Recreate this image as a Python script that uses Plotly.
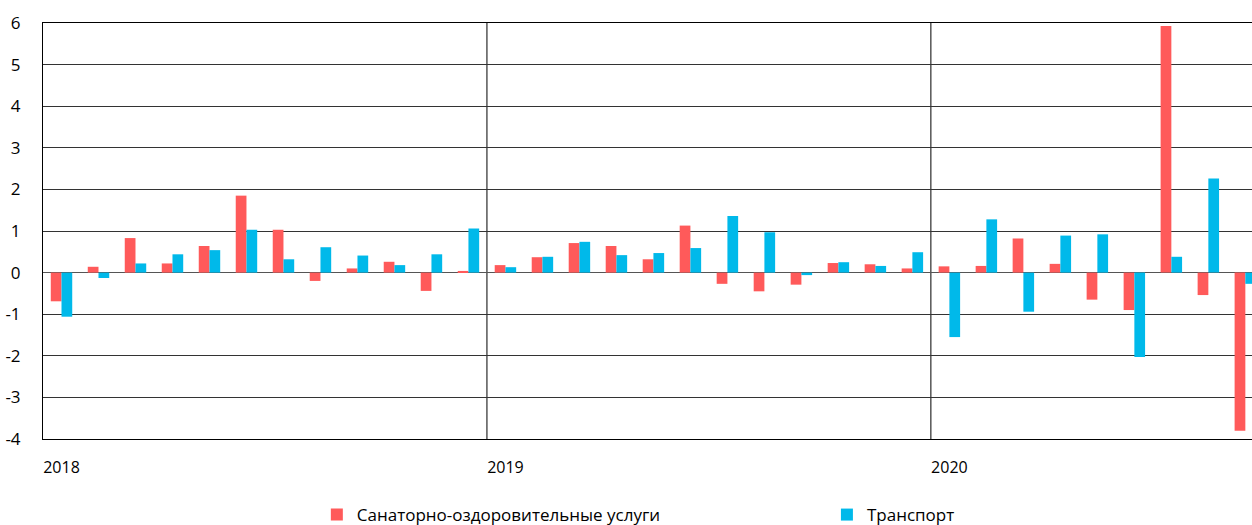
import plotly.graph_objects as go

months = list(range(33))  # Jan 2018 .. Sep 2020
year_ticks = [0, 12, 24]
year_labels = ["2018", "2019", "2020"]
year_bounds = [11.5, 23.5]
y_ticks = [-4, -3, -2, -1, 0, 1, 2, 3, 4, 5, 6]
y_labels = ["-4", "-3", "-2", "-1", "0", "1", "2", "3", "4", "5", "6"]

sanatorium = [-0.69, 0.14, 0.83, 0.22, 0.64, 1.85, 1.03, -0.20, 0.10, 0.26, -0.44, 0.04,
              0.18, 0.37, 0.71, 0.64, 0.32, 1.13, -0.27, -0.45, -0.29, 0.23, 0.20, 0.10,
              0.15, 0.16, 0.82, 0.21, -0.65, -0.90, 5.93, -0.54, -3.80]
transport = [-1.06, -0.13, 0.22, 0.44, 0.54, 1.03, 0.32, 0.61, 0.41, 0.18, 0.44, 1.06,
             0.13, 0.38, 0.74, 0.42, 0.47, 0.59, 1.36, 0.97, -0.06, 0.25, 0.16, 0.49,
             -1.55, 1.28, -0.94, 0.89, 0.92, -2.03, 0.38, 2.26, -0.27]

names = ["Санаторно-оздоровительные услуги", "Транспорт"]
colors = ["#FF5A5A", "#00B9EA"]

FONT = "Open Sans"

fig = go.Figure()
fig.add_trace(go.Bar(x=months, y=sanatorium, name=names[0], marker_color=colors[0],
                     marker_line_width=0, legend="legend"))
fig.add_trace(go.Bar(x=months, y=transport, name=names[1], marker_color=colors[1],
                     marker_line_width=0, legend="legend2"))

for xb in year_bounds:
    fig.add_shape(type="line", xref="x", yref="paper", x0=xb, x1=xb, y0=0, y1=1,
                  line=dict(color="black", width=1), layer="below")

legend_common = dict(orientation="h", xanchor="left", yref="container", y=0.019,
                     yanchor="middle", font=dict(size=17), itemwidth=30,
                     bgcolor="rgba(0,0,0,0)")

fig.update_layout(
    width=1252, height=525,
    margin=dict(l=43, r=0, t=23, b=86, autoexpand=False),
    paper_bgcolor="white", plot_bgcolor="white",
    barmode="group", bargap=0.42, bargroupgap=0,
    font=dict(family=FONT, size=16, color="black"),
    showlegend=True,
    legend=dict(x=0.2265, **legend_common),
    legend2=dict(x=0.6484, **legend_common),
    xaxis=dict(range=[-0.5, 32.18], tickmode="array", tickvals=year_ticks,
               ticktext=year_labels, showgrid=False, zeroline=False,
               showline=True, mirror=True, linecolor="black", linewidth=1,
               ticks="", ticklabelstandoff=14,
               tickfont=dict(size=16)),
    yaxis=dict(range=[-4, 6], tickmode="array", tickvals=y_ticks, ticktext=y_labels,
               showgrid=True, gridcolor="#333333", gridwidth=1,
               zeroline=True, zerolinecolor="#555555", zerolinewidth=1,
               showline=True, linecolor="black", linewidth=1,
               ticks="", ticklabelstandoff=18,
               tickfont=dict(size=17)),
)

fig.write_html("out.html", config={"displayModeBar": False},
               post_script="document.body.style.margin='0';")
